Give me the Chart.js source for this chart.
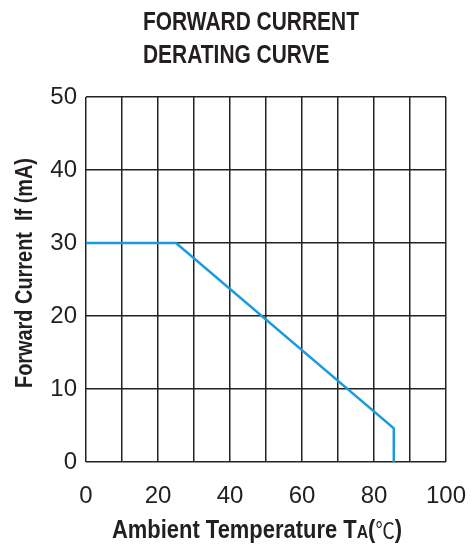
<!DOCTYPE html>
<html>
<head>
<meta charset="utf-8">
<script src="https://cdn.jsdelivr.net/npm/chart.js@4.4.1/dist/chart.umd.min.js"></script>
<style>
  html, body { margin: 0; padding: 0; background: #fff; }
  #wrap { width: 473px; height: 547px; }
</style>
</head>
<body>
<div id="wrap"><canvas id="derating"></canvas></div>
<script>
const temps = [0, 25, 85.5, 85.5];
const currents = [30, 30, 4.6, 0];
const xTickLabels = [0, 20, 40, 60, 80, 100];
const yTickLabels = [0, 10, 20, 30, 40, 50];
const titleLines = ["FORWARD CURRENT", "DERATING CURVE"];
const yTitle = "Forward Current  If (mA)";

const FONT = "'Liberation Sans', Arial, Helvetica, sans-serif";
const INK = "#231f20";

// draw a run of text pieces squeezed horizontally to a target width
function drawRun(ctx, parts, x, y, width, rotate, align) {
    let total = 0;
    parts.forEach(p => { ctx.font = p.f; p.w = ctx.measureText(p.t).width; total += p.w; });
    const s = width / total;
    ctx.save();
    ctx.translate(x, y);
    if (rotate) ctx.rotate(rotate);
    ctx.scale(s, 1);
    let cx = align === "left" ? 0 : -total / 2;
    ctx.textAlign = "left";
    ctx.textBaseline = "alphabetic";
    parts.forEach(p => {
        ctx.font = p.f;
        ctx.fillText(p.t, cx, p.dy || 0);
        cx += p.w;
    });
    ctx.restore();
    return s;
}

const textPlugin = {
    id: "textPlugin",
    afterDraw(chart) {
        const ctx = chart.ctx;
        ctx.save();
        ctx.fillStyle = INK;
        const tf = "bold 26px " + FONT;
        const s = drawRun(ctx, [{ t: titleLines[0], f: tf }], 143, 30, 216, 0, "left");
        ctx.font = tf;
        const w2 = ctx.measureText(titleLines[1]).width * s;
        drawRun(ctx, [{ t: titleLines[1], f: tf }], 143, 62.5, w2, 0, "left");

        drawRun(ctx, [
            { t: "Ambient Temperature T", f: "bold 25px " + FONT },
            { t: "A", f: "bold 18px " + FONT },
            { t: "(", f: "bold 25px " + FONT },
            { t: "℃", f: "22px 'Noto Sans CJK SC', sans-serif" },
            { t: ")", f: "bold 25px " + FONT }
        ], 112, 538, 290, 0, "left");

        drawRun(ctx, [{ t: yTitle, f: "bold 23px " + FONT }], 32, 273, 230, -Math.PI / 2, "center");
        ctx.restore();
    }
};

new Chart(document.getElementById("derating"), {
    type: "line",
    data: {
        datasets: [{
            data: temps.map((t, i) => ({ x: t, y: currents[i] })),
            borderColor: "#1a9bdc",
            borderWidth: 2.5,
            pointRadius: 0,
            tension: 0,
            fill: false
        }]
    },
    options: {
        responsive: true,
        maintainAspectRatio: false,
        animation: false,
        layout: { padding: { top: 97, left: 0, right: 27, bottom: 0 } },
        plugins: {
            legend: { display: false },
            tooltip: { enabled: false }
        },
        scales: {
            x: {
                type: "linear",
                min: 0,
                max: 100,
                grid: { color: "#222222", lineWidth: 1.5, drawTicks: false },
                border: { display: false },
                ticks: {
                    stepSize: 10,
                    autoSkip: false,
                    padding: 20,
                    color: INK,
                    font: { family: FONT, size: 24 },
                    maxRotation: 0,
                    callback: v => xTickLabels.includes(v) ? String(v) : ""
                },
                afterFit: s => { s.height = 85; s.paddingLeft = 0; s.paddingRight = 0; }
            },
            y: {
                min: 0,
                max: 50,
                grid: { color: "#222222", lineWidth: 1.5, drawTicks: false },
                border: { display: false },
                ticks: {
                    stepSize: 10,
                    autoSkip: false,
                    padding: 9,
                    color: INK,
                    font: { family: FONT, size: 24 },
                    callback: v => yTickLabels.includes(v) ? String(v) : ""
                },
                afterFit: s => { s.width = 86; s.paddingTop = 0; s.paddingBottom = 0; }
            }
        }
    },
    plugins: [textPlugin]
});
</script>
</body>
</html>
